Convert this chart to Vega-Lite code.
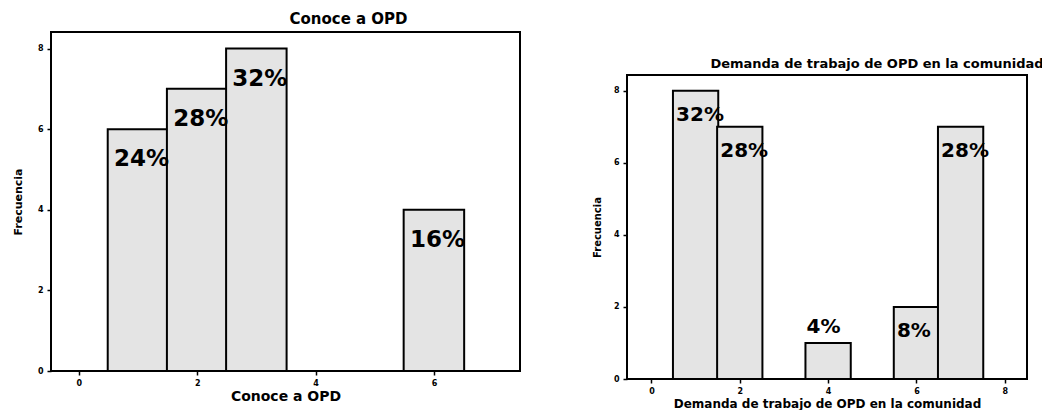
{
  "$schema": "https://vega.github.io/schema/vega-lite/v6.json",
  "padding": {"left": 11, "top": 11, "right": 0, "bottom": 0},
  "background": "white",
  "spacing": 70,
  "config": {
    "view": {"stroke": "black", "strokeWidth": 2},
    "font": "DejaVu Sans",
    "axis": {
      "domain": false,
      "grid": false,
      "tickColor": "black",
      "tickWidth": 1.5,
      "tickSize": 4,
      "labelFont": "DejaVu Sans",
      "labelFontWeight": "bold",
      "labelFontSize": 8,
      "labelColor": "black",
      "labelPadding": 4,
      "titleFont": "DejaVu Sans",
      "titleFontWeight": "bold",
      "titleColor": "black"
    },
    "title": {"font": "DejaVu Sans", "fontWeight": "bold", "color": "black", "anchor": "middle"}
  },
  "datasets": {
    "conoce": [
      {"valor": 1, "frecuencia": 6, "pct": "24%"},
      {"valor": 2, "frecuencia": 7, "pct": "28%"},
      {"valor": 3, "frecuencia": 8, "pct": "32%"},
      {"valor": 6, "frecuencia": 4, "pct": "16%"}
    ],
    "demanda": [
      {"valor": 1, "frecuencia": 8, "pct": "32%"},
      {"valor": 2, "frecuencia": 7, "pct": "28%"},
      {"valor": 4, "frecuencia": 1, "pct": "4%"},
      {"valor": 6, "frecuencia": 2, "pct": "8%"},
      {"valor": 7, "frecuencia": 7, "pct": "28%"}
    ],
    "vacio": []
  },
  "hconcat": [
    {
      "width": 469,
      "height": 339,
      "title": {"text": "Conoce a OPD", "fontSize": 15, "dx": 63, "offset": 5},
      "data": {"name": "conoce"},
      "encoding": {
        "x": {
          "field": "valor", "type": "quantitative", "title": "Conoce a OPD",
          "scale": {"domain": [-0.385, 7.37], "nice": false, "zero": false},
          "axis": {"values": [0, 2, 4, 6], "titleFontSize": 14, "titlePadding": 2}
        },
        "y": {
          "field": "frecuencia", "type": "quantitative", "title": "Frecuencia",
          "scale": {"domain": [0, 8.41], "nice": false},
          "axis": {"values": [0, 2, 4, 6, 8], "titleFontSize": 11, "titlePadding": 14}
        }
      },
      "layer": [
        {"mark": {"type": "bar", "orient": "vertical", "size": 60.5, "fill": "#e4e4e4", "stroke": "black", "strokeWidth": 2}},
        {
          "mark": {"type": "text", "align": "left", "baseline": "alphabetic", "dx": -24, "dy": 37, "fontSize": 23, "fontWeight": "bold", "font": "DejaVu Sans", "color": "black"},
          "encoding": {"text": {"field": "pct"}}
        }
      ]
    },
    {
      "spacing": 0,
      "vconcat": [
        {
          "width": 400,
          "height": 25,
          "view": {"stroke": null},
          "data": {"name": "vacio"},
          "mark": {"type": "point", "opacity": 0},
          "encoding": {}
        },
        {
          "width": 400,
          "height": 304,
          "title": {"text": "Demanda de trabajo de OPD en la comunidad", "fontSize": 13, "dx": 50, "offset": 4},
          "data": {"name": "demanda"},
          "encoding": {
            "x": {
              "field": "valor", "type": "quantitative", "title": "Demanda de trabajo de OPD en la comunidad",
              "scale": {"domain": [-0.44, 8.39], "nice": false, "zero": false},
              "axis": {"values": [0, 2, 4, 6, 8], "titleFontSize": 12, "titlePadding": 3}
            },
            "y": {
              "field": "frecuencia", "type": "quantitative", "title": "Frecuencia",
              "scale": {"domain": [0, 8.44], "nice": false},
              "axis": {"values": [0, 2, 4, 6, 8], "titleFontSize": 10, "titlePadding": 11}
            }
          },
          "layer": [
            {"mark": {"type": "bar", "orient": "vertical", "size": 45.3, "fill": "#e4e4e4", "stroke": "black", "strokeWidth": 2}},
            {
              "transform": [{"filter": "datum.frecuencia >= 2"}],
              "mark": {"type": "text", "align": "left", "baseline": "alphabetic", "dx": -19.5, "dy": 30, "fontSize": 20, "fontWeight": "bold", "font": "DejaVu Sans", "color": "black"},
              "encoding": {"text": {"field": "pct"}}
            },
            {
              "transform": [{"filter": "datum.frecuencia < 2"}],
              "mark": {"type": "text", "align": "left", "baseline": "alphabetic", "dx": -21.5, "dy": -10, "fontSize": 20, "fontWeight": "bold", "font": "DejaVu Sans", "color": "black"},
              "encoding": {"text": {"field": "pct"}}
            }
          ]
        }
      ]
    }
  ]
}
